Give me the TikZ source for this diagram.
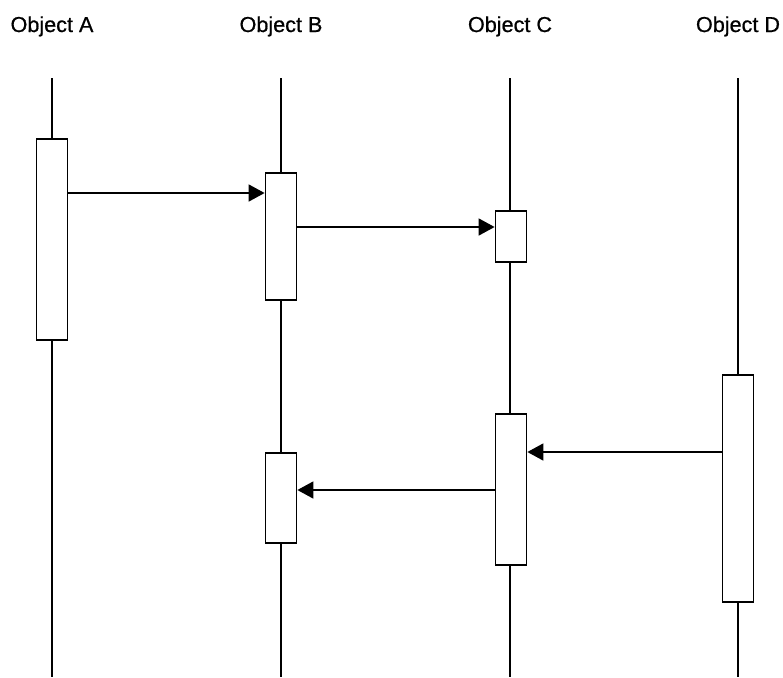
\documentclass[tikz,border=0pt]{standalone}
\usepackage{fontspec}
\setmainfont{Liberation Sans}[BoldFont={Liberation Sans}, BoldFeatures={FakeBold=0.7}]
\usepackage{tikz}
\usetikzlibrary{arrows.meta, positioning, calc}

\begin{document}
\begin{tikzpicture}[
  x=0.02cm, y=-0.02cm,
  every node/.style={font=\fontsize{12.3}{14}\selectfont\bfseries},
  head/.style={anchor=base, inner sep=0pt},
  lifeline/.style={line width=0.9pt},
  activation/.style={rectangle, draw, fill=white, line width=1pt,
                     minimum width=0.62cm, inner sep=0pt},
  msg/.style={-{Triangle[length=0.32cm, width=0.34cm]}, line width=0.9pt}
]
  \useasboundingbox (0,0) rectangle (783,677);
  % objects and their lifelines
  \foreach \n/\x in {A/52, B/281, C/510, D/738} {
    \node[head] (head\n) at (\x,32) {Object \n};
    \coordinate (top\n) at (\x,78);
    \coordinate (bot\n) at (\x,677);
    \draw[lifeline] (top\n) -- (bot\n);
  }
  \node[activation, minimum height=4.02cm] (actA)  at (52,239.5)  {};
  \node[activation, minimum height=2.54cm] (actB1) at (281,236.5) {};
  \node[activation, minimum height=1.02cm] (actC1) at (511,236.5) {};
  \node[activation, minimum height=4.54cm] (actD)  at (738,488.5) {};
  \node[activation, minimum height=3.02cm] (actC2) at (511,489.5) {};
  \node[activation, minimum height=1.8cm]  (actB2) at (281,498)   {};
  % message levels
  \coordinate (m1) at (0,193);
  \coordinate (m2) at (0,227);
  \coordinate (m3) at (0,452);
  \coordinate (m4) at (0,490);
  \draw[msg] (actA.east |- m1) -- (actB1.west |- m1);
  \draw[msg] (actB1.east |- m2) -- (actC1.west |- m2);
  \draw[msg] (actD.west |- m3) -- (actC2.east |- m3);
  \draw[msg] (actC2.west |- m4) -- (actB2.east |- m4);
\end{tikzpicture}
\end{document}
